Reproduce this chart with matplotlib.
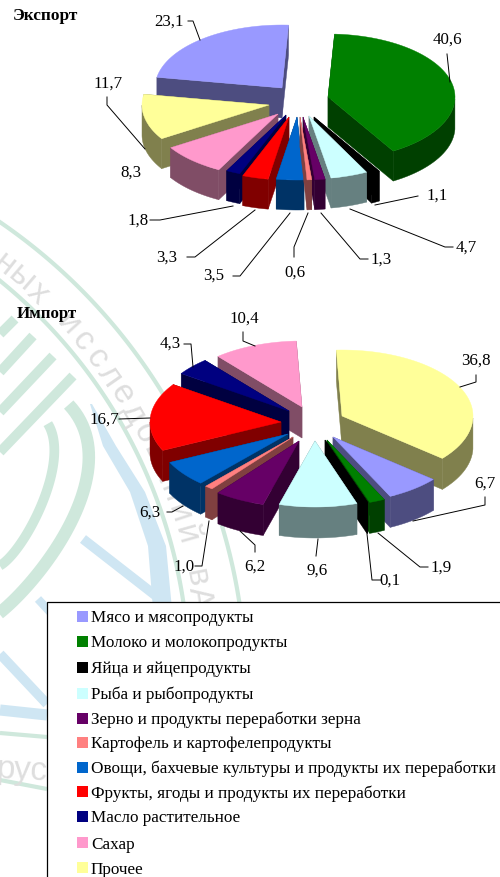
import numpy as np
import matplotlib
matplotlib.use("Agg")
import matplotlib.pyplot as plt
from matplotlib.colors import to_rgb
from matplotlib.patches import Polygon, Rectangle

plt.rcParams['font.family'] = ['Liberation Serif', 'DejaVu Serif']

# Данные
kategorie = ["Мясо и мясопродукты", "Молоко и молокопродукты", "Яйца и яйцепродукты",
             "Рыба и рыбопродукты", "Зерно и продукты переработки зерна",
             "Картофель и картофелепродукты",
             "Овощи, бахчевые культуры и продукты их переработки",
             "Фрукты, ягоды и продукты их переработки", "Масло растительное", "Сахар", "Прочее"]
eksport = [23.1, 40.6, 1.1, 4.7, 1.3, 0.6, 3.5, 3.3, 1.8, 8.3, 11.7]
import_ = [6.7, 1.9, 0.1, 9.6, 6.2, 1.0, 6.3, 16.7, 4.3, 10.4, 36.8]

kolory = ["#9999FF", "#008000", "#000000", "#CCFFFF", "#660066", "#FF8080",
          "#0066CC", "#FF0000", "#000080", "#FF99CC", "#FFFF99"]

# Wysunięcie wycinków (px), osobno dla każdego wykresu
explode_eks = [(-18, -14), (28, -5), (14, 15), (9, 14), (3, 15), (0, 15),
               (-3, 15), (-11, 15), (-14, 13), (-22, 12), (-31, 3)]
explode_imp = [(18, 18), (12, 21), (10, 21), (0, 22), (-16, 22), (-22, 18),
               (-27, 15), (-34, 3), (-26, -8), (-13, -12), (27, -3)]

# (tekst, x, y, linia odnosząca)
opisy_eks = [
    ("23,1", 169, 22, [(188, 22), (193, 22), (200, 41)]),
    ("40,6", 447, 40, [(447, 55), (450, 83)]),
    ("1,1", 437, 196, [(418, 197), (375, 206)]),
    ("4,7", 466, 248, [(453, 248), (445, 248), (350, 210)]),
    ("1,3", 381, 260, [(368, 260), (360, 260), (321, 214)]),
    ("0,6", 295, 273, [(294, 258), (294, 248), (308, 214)]),
    ("3,5", 214, 276, [(233, 277), (240, 277), (290, 214)]),
    ("3,3", 167, 258, [(187, 258), (195, 258), (255, 211)]),
    ("1,8", 138, 221, [(150, 221), (160, 221), (233, 207)]),
    ("8,3", 131, 173, []),
    ("11,7", 108, 84, [(107, 98), (107, 106), (145, 150)]),
]
opisy_imp = [
    ("10,4", 244, 319, [(243, 333), (243, 342), (255, 347)]),
    ("4,3", 170, 344, [(184, 345), (191, 345), (193, 368)]),
    ("36,8", 476, 361, [(476, 376), (476, 383), (460, 388)]),
    ("16,7", 104, 420, [(119, 420), (150, 419)]),
    ("6,7", 485, 484, [(485, 498), (485, 506), (413, 522)]),
    ("6,3", 150, 513, [(167, 513), (172, 513), (183, 507)]),
    ("1,0", 184, 567, [(195, 567), (202, 567), (209, 522)]),
    ("6,2", 255, 567, [(255, 553), (255, 546), (240, 532)]),
    ("9,6", 317, 571, [(316, 557), (318, 540)]),
    ("0,1", 390, 581, [(381, 581), (372, 581), (367, 535)]),
    ("1,9", 441, 568, [(428, 568), (420, 568), (378, 534)]),
]


def rysuj_pie(ax, wartosci, srodek, rx, ry, h, start, explode):
    # kąty zgodnie z ruchem wskazówek zegara od start
    kat = start - np.cumsum([0] + list(wartosci)) / sum(wartosci) * 360
    wycinki = []
    for i in range(len(wartosci)):
        t = np.radians(np.linspace(kat[i], kat[i + 1], 60))
        cx = srodek[0] + explode[i][0]
        cy = srodek[1] + explode[i][1]
        x = cx + rx * np.cos(t)
        y = cy - ry * np.sin(t)
        wycinki.append((cy + y.mean() * 0.5, i, t, cx, cy, x, y))
    # od tyłu do przodu
    for _, i, t, cx, cy, x, y in sorted(wycinki, key=lambda w: w[0]):
        kolor = np.array(to_rgb(kolory[i]))
        ciemny = tuple(kolor * 0.5)
        styl = dict(facecolor=ciemny, edgecolor=ciemny, lw=0.3, zorder=3)
        for j in (0, -1):
            ax.add_patch(Polygon([(cx, cy), (x[j], y[j]), (x[j], y[j] + h), (cx, cy + h)], **styl))
        przod = np.sin(t) < 0
        if przod.any():
            xf, yf = x[przod], y[przod]
            ax.add_patch(Polygon(np.r_[np.c_[xf, yf], np.c_[xf, yf + h][::-1]], **styl))
        ax.add_patch(Polygon(np.r_[[(cx, cy)], np.c_[x, y]], facecolor=kolor, edgecolor=kolor, lw=0.3, zorder=3))


def rysuj_opisy(ax, opisy):
    for tekst, x, y, linia in opisy:
        ax.text(x, y, tekst, ha='center', va='center', fontsize=12.2, color='black', zorder=6)
        if linia:
            ax.plot(*zip(*linia), color='black', lw=0.7, zorder=6)


def krzywa(ax, punkty, kolor, lw):
    p = np.array(punkty, dtype=float)
    s = np.linspace(0, 1, len(p))
    g = np.linspace(0, 1, 60)
    ax.plot(np.polyval(np.polyfit(s, p[:, 0], 3), g), np.polyval(np.polyfit(s, p[:, 1], 3), g),
            color=kolor, lw=lw, solid_capstyle='butt', zorder=0)


def znak_wodny(ax):
    zielony, niebieski, szary = "#CFE8DC", "#CFE6F3", "#DEDEDE"
    c = (-323, 679)
    # dwa duże łuki
    t = np.radians(np.linspace(5, 60, 120))
    ax.plot(-320 + 566 * np.cos(t), 690 - 566 * np.sin(t), color=zielony, lw=3, zorder=0)
    ax.plot(c[0] + 512 * np.cos(t), c[1] - 512 * np.sin(t), color=zielony, lw=3, zorder=0)
    # paski
    for a, b in [((0, 335), (15, 320)), ((0, 373), (33, 337)), ((0, 413), (53, 357)), ((0, 453), (73, 377))]:
        ax.plot(*zip(a, b), color=zielony, lw=7, solid_capstyle='butt', zorder=0)
    krzywa(ax, [(70, 405), (85, 460), (77, 513), (43, 573), (0, 610), (-20, 625)], zielony, 9)
    krzywa(ax, [(48, 425), (53, 460), (43, 507), (20, 543), (0, 567)], zielony, 7)
    ax.add_patch(Polygon([(90, 405), (103, 447), (130, 493), (148, 547), (153, 610),
                          (172, 610), (166, 547), (145, 493), (116, 447), (92, 405)],
                         facecolor=niebieski, edgecolor='none', zorder=0))
    ax.plot([83, 160], [540, 600], color=niebieski, lw=7, solid_capstyle='butt', zorder=0)
    ax.plot([38, 50], [600, 613], color=niebieski, lw=6, solid_capstyle='butt', zorder=0)
    ax.plot([0, 47], [655, 705], color=niebieski, lw=7, solid_capstyle='butt', zorder=0)
    ax.plot([0, 47], [711, 716], color=niebieski, lw=8, solid_capstyle='butt', zorder=0)
    ax.plot([0, 47], [734, 738], color=zielony, lw=3, solid_capstyle='butt', zorder=0)
    ax.plot([0, 47], [781, 790], color=zielony, lw=3, solid_capstyle='butt', zorder=0)
    # tekst po łuku
    for napis, kat0 in [("ных исследований в", 51.7), ("Ар", 8.9)]:
        for n, znak in enumerate(napis):
            kat = kat0 - n * 2.39
            px = c[0] + 528 * np.cos(np.radians(kat))
            py = c[1] - 528 * np.sin(np.radians(kat))
            ax.text(px, py, znak, fontsize=24, color=szary, rotation=kat - 90, rotation_mode='anchor',
                    ha='center', va='center', family='Liberation Sans', zorder=0.5)
    ax.text(22, 771, "рус", fontsize=24, color=szary, rotation=-3, ha='center', va='center',
            family='Liberation Sans', zorder=0.5)


def main():
    fig = plt.figure(figsize=(5, 8.78), dpi=100)
    ax = fig.add_axes([0, 0, 1, 1])
    ax.set_xlim(0, 500)
    ax.set_ylim(878, 0)
    ax.axis('off')

    znak_wodny(ax)
    ax.add_patch(Rectangle((47, 603), 460, 280, facecolor='white', edgecolor='black', lw=0.9, zorder=1))

    rysuj_pie(ax, eksport, (300, 103), 127, 63, 30, 170.2, explode_eks)
    rysuj_pie(ax, import_, (315, 420), 131, 66, 31, -40, explode_imp)
    rysuj_opisy(ax, opisy_eks)
    rysuj_opisy(ax, opisy_imp)

    ax.text(13, 16, "Экспорт", fontsize=12.4, fontweight='bold', va='center', zorder=6)
    ax.text(17, 314, "Импорт", fontsize=12.2, fontweight='bold', va='center', zorder=6)

    # legenda
    y_leg = [617.5, 642.5, 668, 694, 719, 743.5, 768.5, 793, 817.5, 844, 869]
    for nazwa, kolor, y in zip(kategorie, kolory, y_leg):
        ax.add_patch(Rectangle((77, y - 5.5), 11, 11, facecolor=kolor, edgecolor='none', zorder=4))
        ax.text(91, y + 5, nazwa, fontsize=12.3, va='baseline', zorder=6)

    fig.savefig("out.png", dpi=100)


if __name__ == "__main__":
    main()
